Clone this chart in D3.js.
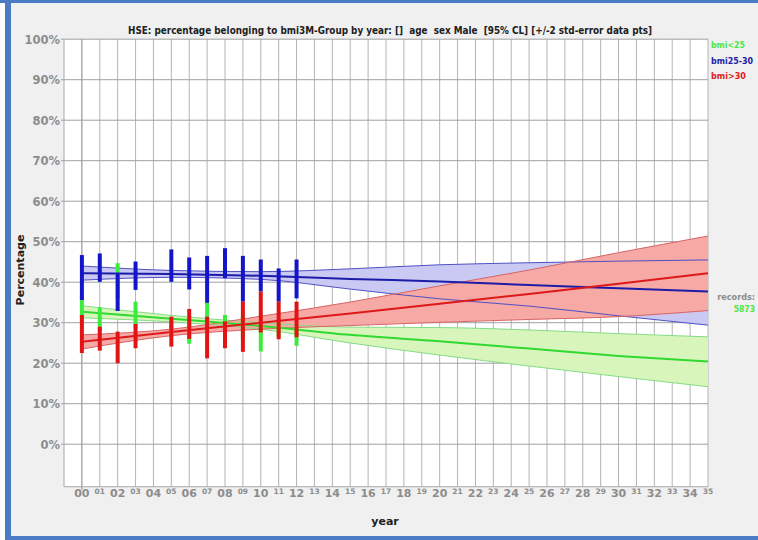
<!DOCTYPE html>
<html>
<head>
<meta charset="utf-8">
<script src="https://cdn.jsdelivr.net/npm/d3@7"></script>
<style>
  body { margin: 0; background: #f0f0f0; }
  svg { display: block; }
</style>
</head>
<body>
<div id="grafico"></div>
<script>
// tick labels of the x axis (years 2000-2035)
const yearLabels = ["00","01","02","03","04","05","06","07","08","09","10","11","12","13","14","15","16","17",
                    "18","19","20","21","22","23","24","25","26","27","28","29","30","31","32","33","34","35"];
const yTicks = [0, 10, 20, 30, 40, 50, 60, 70, 80, 90, 100];

// survey years with data points (+/-2 std-error bars)
const barYears = [0, 1, 2, 3, 5, 6, 7, 8, 9, 10, 11, 12];
const greenHi = [36.5, 33.8, 44.7, 35.2, 30.5, 30.0, 34.9, 31.9, 32.0, 29.5, 30.0, 29.0];
const greenLo = [31.0, 28.0, 36.0, 28.5, 26.5, 24.8, 28.5, 27.0, 26.0, 22.9, 26.5, 24.3];
const blueHi  = [46.7, 47.1, 42.4, 45.1, 48.1, 46.1, 46.5, 48.4, 46.5, 45.6, 43.4, 45.6];
const blueLo  = [35.6, 40.1, 32.9, 38.1, 40.1, 38.2, 34.9, 41.0, 35.2, 37.7, 35.2, 36.0];
const redHi   = [31.9, 29.0, 27.8, 29.7, 31.5, 33.4, 31.5, 30.3, 35.2, 37.7, 35.2, 35.2];
const redLo   = [22.5, 23.1, 20.0, 23.7, 24.1, 26.0, 21.2, 23.7, 22.8, 27.6, 25.9, 26.4];

// fitted trend with 95% confidence limits, read every 5 years
const fitYears = [0, 5, 10, 15, 20, 25, 30, 35];
const greenFit   = [32.7, 31.0, 29.2, 27.0, 25.4, 23.6, 21.8, 20.4];
const greenFitHi = [34.2, 31.8, 30.0, 28.9, 28.8, 28.2, 27.3, 26.5];
const greenFitLo = [31.2, 30.2, 28.4, 25.0, 22.0, 19.3, 16.7, 14.2];
const blueFit    = [42.2, 42.0, 41.6, 40.8, 40.2, 39.3, 38.5, 37.7];
const blueFitHi  = [44.0, 42.9, 42.6, 43.3, 44.3, 44.8, 45.2, 45.5];
const blueFitLo  = [40.5, 41.2, 40.7, 38.3, 35.9, 34.1, 31.7, 29.4];
const redFit     = [25.3, 27.7, 30.0, 32.3, 34.7, 37.1, 39.6, 42.2];
const redFitHi   = [27.0, 28.4, 31.6, 35.1, 39.1, 43.0, 47.3, 51.4];
const redFitLo   = [23.5, 26.8, 28.4, 29.3, 30.1, 30.8, 31.5, 33.0];

const legendNames = ["bmi<25", "bmi25-30", "bmi>30"];
const legendWidths = [34, 42, 35];
const records = "5873";

const width = 758, height = 540;
const font = "'DejaVu Sans Condensed', 'Liberation Sans Narrow', 'DejaVu Sans', sans-serif";

const svg = d3.select("#grafico")
              .append("svg")
              .attr("width", width)
              .attr("height", height);

// window frame
svg.append("rect").attr("x", 0).attr("y", 0).attr("width", width).attr("height", height).attr("fill", "#f0f0f0");
svg.append("rect").attr("x", 0).attr("y", 0).attr("width", 5).attr("height", height).attr("fill", "#ffffff");
svg.append("rect").attr("x", 0).attr("y", 0).attr("width", width).attr("height", 3).attr("fill", "#4a7bc4");
svg.append("rect").attr("x", 5).attr("y", 0).attr("width", 6).attr("height", height).attr("fill", "#4a7bc4");
svg.append("rect").attr("x", 5).attr("y", 536).attr("width", width).attr("height", 4).attr("fill", "#4a7bc4");

// scales
const x = d3.scaleLinear().domain([-1, 35]).range([64, 708]);
const y = d3.scaleLinear().domain([0, 100]).range([444.2, 39.2]);
const yBottom = y(-10.5);

// plot area
svg.append("rect")
   .attr("x", x(-1)).attr("y", y(100))
   .attr("width", x(35) - x(-1)).attr("height", yBottom - y(100))
   .attr("fill", "#ffffff");

// vertical grid
svg.append("g")
   .selectAll("line")
   .data(yearLabels)
   .join("line")
   .attr("x1", (d, i) => x(i)).attr("x2", (d, i) => x(i))
   .attr("y1", y(100)).attr("y2", (d, i) => i === 0 ? yBottom + 3 : yBottom)
   .attr("stroke", (d, i) => i === 0 ? "#808080" : "#b4b4b4")
   .attr("stroke-width", 1);

// horizontal grid + ticks
svg.append("g")
   .selectAll("line")
   .data(yTicks)
   .join("line")
   .attr("x1", x(-1) - 3).attr("x2", x(35))
   .attr("y1", d => y(d)).attr("y2", d => y(d))
   .attr("stroke", "#a0a0a0")
   .attr("stroke-width", 1);

// axes frame
svg.append("line").attr("x1", x(-1)).attr("x2", x(-1)).attr("y1", y(100)).attr("y2", yBottom)
   .attr("stroke", "#a8a8a8");
svg.append("line").attr("x1", x(-1)).attr("x2", x(35)).attr("y1", yBottom).attr("y2", yBottom)
   .attr("stroke", "#a8a8a8");

// y tick labels
svg.append("g")
   .selectAll("text")
   .data(yTicks)
   .join("text")
   .attr("x", 60)
   .attr("y", d => y(d) + 4.5)
   .attr("text-anchor", "end")
   .attr("font-family", "'DejaVu Sans', sans-serif")
   .attr("font-weight", "bold")
   .attr("font-size", "11.5px")
   .attr("fill", "#8c8c8c")
   .text(d => d + "%");

// x tick labels, odd years smaller
svg.append("g")
   .selectAll("text")
   .data(yearLabels)
   .join("text")
   .attr("x", (d, i) => x(i))
   .attr("y", (d, i) => i % 2 === 0 ? 497 : 493.5)
   .attr("text-anchor", "middle")
   .attr("font-family", "'DejaVu Sans', sans-serif")
   .attr("font-weight", "bold")
   .attr("font-size", (d, i) => i % 2 === 0 ? "11px" : "7.5px")
   .attr("fill", "#8c8c8c")
   .text(d => d);

// titles
svg.append("text")
   .attr("x", 390).attr("y", 34)
   .attr("text-anchor", "middle")
   .attr("font-family", font).attr("font-weight", "bold").attr("font-size", "11px")
   .attr("fill", "#202020")
   .attr("textLength", 524).attr("lengthAdjust", "spacingAndGlyphs")
   .style("white-space", "pre")
   .text("HSE: percentage belonging to bmi3M-Group by year: []  age  sex Male  [95% CL] [+/-2 std-error data pts]");

svg.append("text")
   .attr("x", 385).attr("y", 525)
   .attr("text-anchor", "middle")
   .attr("font-family", "'DejaVu Sans', sans-serif").attr("font-weight", "bold").attr("font-size", "11px")
   .attr("fill", "#202020")
   .text("year");

svg.append("text")
   .attr("transform", "translate(24, 270) rotate(-90)")
   .attr("text-anchor", "middle")
   .attr("font-family", "'DejaVu Sans', sans-serif").attr("font-weight", "bold").attr("font-size", "11px")
   .attr("fill", "#202020")
   .text("Percentage");

// series styles
const series = [
  { name: legendNames[0], fit: greenFit, hi: greenFitHi, lo: greenFitLo, barHi: greenHi, barLo: greenLo,
    band: "#d8f6bc", edge: "#84dc84", line: "#30d830", bar: "#3cec3c", text: "#48e848" },
  { name: legendNames[1], fit: blueFit, hi: blueFitHi, lo: blueFitLo, barHi: blueHi, barLo: blueLo,
    band: "#c9c9f4", edge: "#5050c4", line: "#1c1ca8", bar: "#1414c8", text: "#1c1ca8" },
  { name: legendNames[2], fit: redFit, hi: redFitHi, lo: redFitLo, barHi: redHi, barLo: redLo,
    band: "#f6a9a5", edge: "#d86464", line: "#dc1a1a", bar: "#e01414", text: "#dc2020" }
];

const area = d3.area()
               .x(d => x(d.yr))
               .y0(d => y(d.lo))
               .y1(d => y(d.hi))
               .curve(d3.curveMonotoneX);

const line = d3.line()
               .x(d => x(d.yr))
               .y(d => y(d.v))
               .curve(d3.curveMonotoneX);

// confidence bands
series.forEach(s => {
  const pts = fitYears.map((yr, i) => ({ yr: yr, lo: s.lo[i], hi: s.hi[i] }));
  svg.append("path").attr("d", area(pts)).attr("fill", s.band);
});

// band edges
series.forEach(s => {
  [s.hi, s.lo].forEach(arr => {
    svg.append("path")
       .attr("d", line(fitYears.map((yr, i) => ({ yr: yr, v: arr[i] }))))
       .attr("fill", "none").attr("stroke", s.edge).attr("stroke-width", 1);
  });
});

// fitted lines
series.forEach(s => {
  svg.append("path")
     .attr("d", line(fitYears.map((yr, i) => ({ yr: yr, v: s.fit[i] }))))
     .attr("fill", "none").attr("stroke", s.line).attr("stroke-width", 2);
});

// error bars
series.forEach(s => {
  svg.append("g")
     .selectAll("line")
     .data(barYears)
     .join("line")
     .attr("x1", d => x(d)).attr("x2", d => x(d))
     .attr("y1", (d, i) => y(s.barHi[i]))
     .attr("y2", (d, i) => y(s.barLo[i]))
     .attr("stroke", s.bar)
     .attr("stroke-width", 4);
});

// legend
svg.append("g")
   .selectAll("text")
   .data(series)
   .join("text")
   .attr("x", 711)
   .attr("y", (d, i) => 48 + i * 15.5)
   .attr("font-family", font).attr("font-weight", "bold").attr("font-size", "8.5px")
   .attr("textLength", (d, i) => legendWidths[i]).attr("lengthAdjust", "spacingAndGlyphs")
   .attr("fill", d => d.text)
   .text(d => d.name);

// record count
svg.append("text")
   .attr("x", 755).attr("y", 300)
   .attr("text-anchor", "end")
   .attr("font-family", font).attr("font-weight", "bold").attr("font-size", "9px")
   .attr("fill", "#8c8c8c")
   .text("records:");
svg.append("text")
   .attr("x", 755).attr("y", 312)
   .attr("text-anchor", "end")
   .attr("font-family", font).attr("font-weight", "bold").attr("font-size", "8.5px")
   .attr("fill", "#48e848")
   .text(records);
</script>
</body>
</html>
